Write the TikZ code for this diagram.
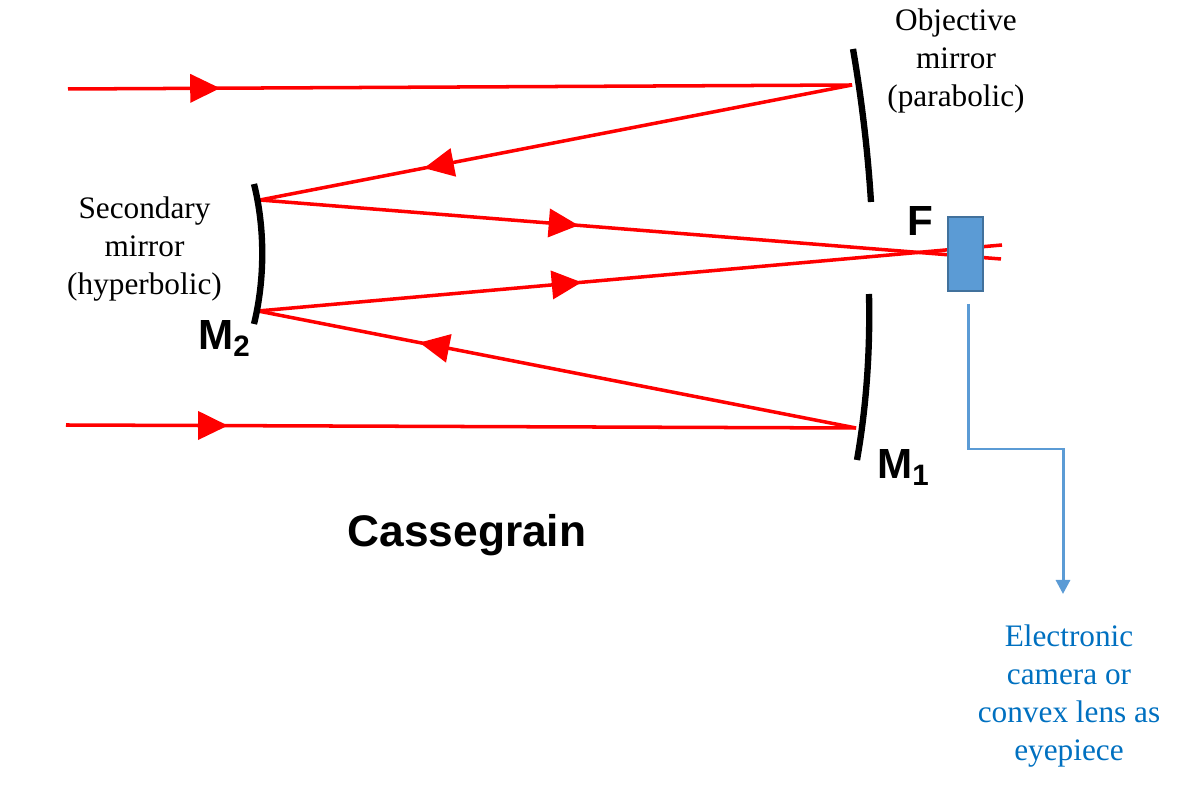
\documentclass[tikz,border=0pt]{standalone}
\usepackage{fontspec}
\setmainfont{Liberation Serif}
\setsansfont{Liberation Sans}
\usetikzlibrary{arrows.meta,decorations.markings}
\definecolor{raycolor}{HTML}{FF0000}
\definecolor{boxblue}{HTML}{5B9BD5}
\definecolor{boxedge}{HTML}{41719C}
\definecolor{textblue}{HTML}{0070C0}
\tikzset{
	ray/.style={raycolor,line width=2pt},
	raytip/.style={postaction={decorate},decoration={markings,
		mark=at position #1 with {\arrow[raycolor]{Triangle[length=17pt,width=16pt]}}}},
	mirror/.style={black,line width=3.6pt},
	caption/.style={align=center,font=\fontsize{17.8}{21.8}\selectfont},
	boldlabel/.style={font=\fontsize{24}{26}\selectfont\sffamily\bfseries,inner sep=0pt},
}
\begin{document}
\begin{tikzpicture}[x=0.02cm,y=-0.02cm]
	\useasboundingbox (0,0) rectangle (1181,786);
	
	\coordinate (topin) at (68,89);
	\coordinate (topmir) at (852,85);
	\coordinate (botin) at (66,425);
	\coordinate (botmir) at (856,428);
	\coordinate (sectop) at (260,200);
	\coordinate (secbot) at (258,311);
	\coordinate (upperout) at (1001,259);
	\coordinate (lowerout) at (1002,245);
	
	% rays
	\draw[ray,raytip=0.194] (topin) -- (topmir);
	\draw[ray,raytip=0.723] (topmir) -- (sectop);
	\draw[ray,raytip=0.43] (sectop) -- (upperout);
	\draw[ray,raytip=0.435] (secbot) -- (lowerout);
	\draw[ray,raytip=0.73] (botmir) -- (secbot);
	\draw[ray,raytip=0.205] (botin) -- (botmir);
	
	% mirrors
	\draw[mirror] (853,49) .. controls (861.7,99.7) and (867.7,150) .. (871,202);
	\draw[mirror] (869,294) .. controls (870.3,351) and (866.3,407) .. (857,460);
	\draw[mirror] (254,184) .. controls (265,228) and (265,279) .. (254,324);
	
	% detector
	\node[draw=boxedge,fill=boxblue,line width=1.2pt,
		inner sep=0pt,minimum width=20.4pt,minimum height=42.5pt] (detector) at (965.5,254) {};
	
	\coordinate (lineend) at (1063,594);
	\draw[boxblue,line width=1.7pt,-{Triangle[length=8pt,width=8pt]}]
		(968,304) -- (968,449) -- (1063,449) -- (lineend);
	
	% labels
	\node[caption] (objective) at (956,61) {Objective\\mirror\\(parabolic)};
	\node[caption] (secondary) at (144.5,249) {Secondary\\mirror\\(hyperbolic)};
	\node[caption,text=textblue] (camera) at (1069,696) {Electronic\\camera or\\convex lens as\\eyepiece};
	
	\node[boldlabel,anchor=base west] (mtwo) at (198,350) {M\textsubscript{2}};
	\node[boldlabel,anchor=base west] (mone) at (877,479) {M\textsubscript{1}};
	\node[boldlabel,anchor=base west] (focus) at (907,236) {F};
	\node[boldlabel,anchor=base,font=\fontsize{25.2}{28}\selectfont\sffamily\bfseries] (title) at (467,547) {Cassegrain};
	
\end{tikzpicture}
\end{document}
